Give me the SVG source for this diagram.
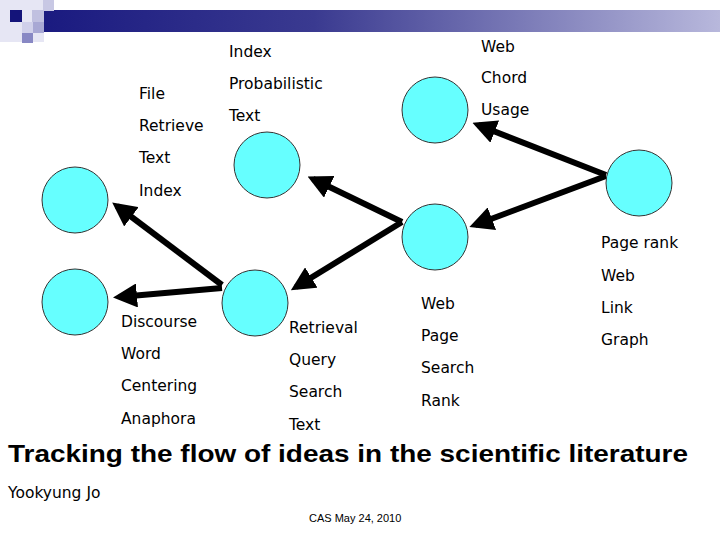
<svg xmlns="http://www.w3.org/2000/svg" width="720" height="540" viewBox="0 0 720 540">
<style>
.n{fill:#66FFFF;stroke:#333;stroke-width:1}
.t{font-family:"DejaVu Sans",Verdana,sans-serif;font-size:15.5px;fill:#000}
.c line{stroke:#000;stroke-width:6}
</style>
<defs>
<linearGradient id="g" x1="0" x2="1"><stop offset="0" stop-color="#1a1a80"/><stop offset="0.4" stop-color="#3a3a90"/><stop offset="1" stop-color="#b8b8dc"/></linearGradient>
<marker id="a" markerWidth="4" markerHeight="4" refX="3" refY="2" orient="auto" markerUnits="strokeWidth"><path d="M0,0L4,2L0,4z" fill="#000"/></marker>
</defs>
<rect width="720" height="540" fill="#fff"/>
<rect x="43" y="10" width="677" height="22" fill="url(#g)"/>
<rect x="0" y="0" width="44" height="42" fill="#e6e6f4"/>
<rect x="43" y="0" width="11" height="11" fill="#c8c8e4"/>
<rect x="10" y="10" width="12" height="12" fill="#14147a"/>
<rect x="32" y="10" width="12" height="12" fill="#c0c0e0"/>
<rect x="22" y="22" width="11" height="11" fill="#d0d0ea"/>
<rect x="33" y="22" width="11" height="11" fill="#a8a8d4"/>
<rect x="22" y="33" width="11" height="10" fill="#8888c4"/>
<g class="c">
<line x1="606" y1="175" x2="478" y2="125" marker-end="url(#a)"/>
<line x1="606" y1="176" x2="475" y2="225" marker-end="url(#a)"/>
<line x1="402" y1="222" x2="313" y2="179" marker-end="url(#a)"/>
<line x1="402" y1="222" x2="296" y2="287" marker-end="url(#a)"/>
<line x1="222" y1="288" x2="119" y2="297" marker-end="url(#a)"/>
<line x1="222" y1="285" x2="117" y2="206" marker-end="url(#a)"/>
</g>
<g id="n1"><circle class="n" cx="75" cy="200" r="33"/></g>
<g id="n2"><circle class="n" cx="75" cy="302" r="33"/></g>
<g id="n3"><circle class="n" cx="255" cy="303" r="33"/></g>
<g id="n4"><circle class="n" cx="267" cy="165" r="33"/></g>
<g id="n5"><circle class="n" cx="435" cy="110" r="33"/></g>
<g id="n6"><circle class="n" cx="435" cy="237" r="33"/></g>
<g id="n7"><circle class="n" cx="639" cy="183" r="33"/></g>
<g class="t">
<text x="229" y="57">Index</text>
<text x="229" y="89">Probabilistic</text>
<text x="229" y="121">Text</text>
<text x="481" y="52">Web</text>
<text x="481" y="83">Chord</text>
<text x="481" y="115">Usage</text>
<text x="139" y="99">File</text>
<text x="139" y="131">Retrieve</text>
<text x="139" y="163">Text</text>
<text x="139" y="196">Index</text>
<text x="601" y="248">Page rank</text>
<text x="601" y="281">Web</text>
<text x="601" y="313">Link</text>
<text x="601" y="345">Graph</text>
<text x="421" y="309">Web</text>
<text x="421" y="341">Page</text>
<text x="421" y="373">Search</text>
<text x="421" y="406">Rank</text>
<text x="289" y="333">Retrieval</text>
<text x="289" y="365">Query</text>
<text x="289" y="397">Search</text>
<text x="289" y="430">Text</text>
<text x="121" y="327">Discourse</text>
<text x="121" y="359">Word</text>
<text x="121" y="391">Centering</text>
<text x="121" y="424">Anaphora</text>
</g>
<text x="8" y="462" font-family="Liberation Sans,Arial,sans-serif" font-weight="bold" font-size="24" textLength="680" lengthAdjust="spacingAndGlyphs">Tracking the flow of ideas in the scientific literature</text>
<text x="8" y="498" font-family="DejaVu Sans,Verdana,sans-serif" font-size="15.5">Yookyung Jo</text>
<text x="309" y="522" font-family="Liberation Sans,Arial,sans-serif" font-size="11">CAS  May 24, 2010</text>
</svg>
